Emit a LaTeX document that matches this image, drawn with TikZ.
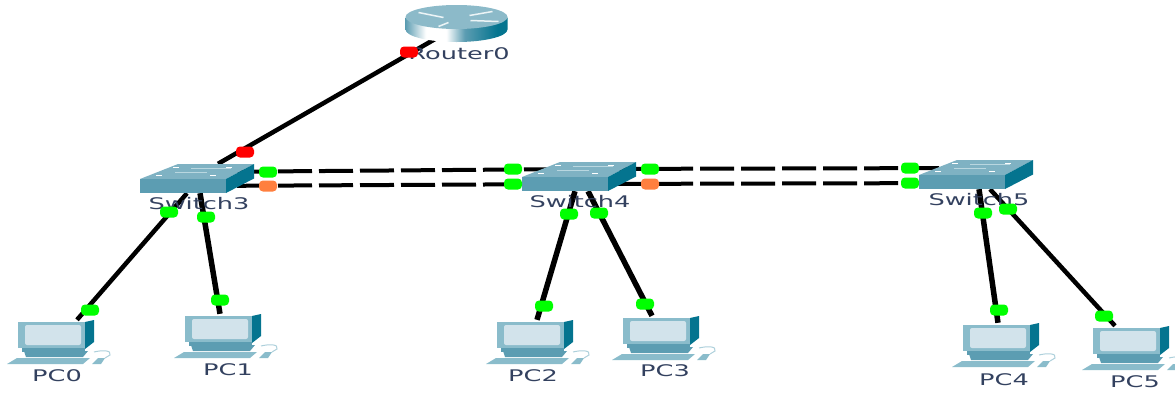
\documentclass[tikz,border=0pt]{standalone}
\usepackage{fontspec}
\usepackage{graphicx}
\setmainfont{DejaVu Sans}
\definecolor{cableblack}{HTML}{000000}
\definecolor{tealtop}{HTML}{7FB2C3}
\definecolor{tealfront}{HTML}{5C9DB2}
\definecolor{tealside}{HTML}{04748F}
\definecolor{tealpale}{HTML}{8ABCCB}
\definecolor{screenblue}{HTML}{D2E3EB}
\definecolor{lblcolor}{HTML}{33415F}
\definecolor{linkgreen}{HTML}{00FF00}
\definecolor{linkred}{HTML}{FF0000}
\definecolor{linkorange}{HTML}{FF7F3F}
\pgfdeclarehorizontalshading{routerbody}{100bp}{
  color(0bp)=(tealfront); color(25bp)=(tealfront); color(35bp)=(white); color(45bp)=(white);
  color(54bp)=(tealfront); color(70bp)=(tealside); color(100bp)=(tealside)}
\tikzset{
  devbox/.style={inner sep=0pt,minimum width=#1},
  swbox/.style={devbox=114pt,minimum height=29pt},
  pcbox/.style={devbox=102pt,minimum height=46pt},
  rtbox/.style={devbox=103pt,minimum height=37pt},
  cable/.style={draw=cableblack,line width=#1},
  cable/.default=4.5pt,
  trunk/.style={cable=4pt,dash pattern=on 34pt off 7pt},
  light/.style={fill=#1,rounded corners=4pt,inner sep=0pt,minimum width=18pt,minimum height=11pt},
  devlabel/.style={inner sep=0pt,text=lblcolor,font=\fontsize{16}{18}\selectfont},
  switchicon/.pic={
    \fill[tealtop] (-57,0.5) -- (-19,-14.5) -- (57,-14.5) -- (29,0.5) -- cycle;
    \fill[tealfront] (-57,0.5) rectangle (29,14.5);
    \fill[tealside] (29,0.5) -- (57,-14.5) -- (57,0) -- (29,14.5) -- cycle;
    \foreach \a/\b in {-38/-3,-21/-11,32/-11,16/-3}
      \draw[white,line width=1.3pt] (\a-3,\b) -- (\a+3,\b);
    \draw[tealpale!60!white,line width=.5pt] (-22,-6) -- (10,-6) (-6,-10) -- (34,-10);
  },
  routericon/.pic={
    \shade[shading=routerbody] (-51,-6) -- (-51,6) arc[start angle=180,end angle=0,x radius=51,y radius=12.5] -- (51,-6) -- cycle;
    \fill[tealtop!90!white] (0,-6.5) ellipse[x radius=51,y radius=12];
    \foreach \a/\b/\c/\d in {-38/-11/-13/-6,13/-8/36/-12,-18/3/-8/-1,14/-3/42/-2}
      \draw[white!85!tealtop,line width=1.5pt] (\a,\b) -- (\c,\d);
  },
  pcicon/.pic={
    \draw[tealpale!70!white,line width=1pt] (36,9) .. controls (44,7) and (54,7) .. (52,12) -- (47,15);
    \fill[tealpale] (40,15) -- (47,15) -- (43,21) -- (34,21) -- cycle;
    \fill[tealpale] (-51,21) -- (-41,15) -- (32,15) -- (25,21) -- cycle;
    \fill[tealfront] (-34,8) -- (30,8) -- (25,14) -- (-32,14) -- cycle;
    \fill[tealside] (27,-21) -- (36,-23) -- (36,-1) -- (27,6) -- cycle;
    \fill[tealpale] (-40,-21) -- (27,-21) -- (27,5) -- (-40,5) -- cycle;
    \fill[tealfront] (-36,5) rectangle (27,9);
    \fill[screenblue,rounded corners=2pt] (-33,-18) rectangle (23,2);
  },
}
\begin{document}
\begin{tikzpicture}[x=1pt,y=-1pt]
\useasboundingbox (0,0) rectangle (1175,392);
% devices
\node[rtbox] (router0) at (456.5,23.5) {};
\foreach \nm/\x/\y in {switch3/197/178.5,switch4/579/176.5,switch5/976/174.5}
  \node[swbox] (\nm) at (\x,\y) {};
\foreach \nm/\x/\y in {pc0/58/343,pc1/225/337,pc2/537/343,pc3/663/339,pc4/1003/346,pc5/1133/349}
  \node[pcbox] (\nm) at (\x,\y) {};
% cables
\draw[cable] ([xshift=21pt]switch3.north) -- ([xshift=-20pt,yshift=4pt]router0.south);
\draw[cable] ([xshift=-10pt]switch3.south) -- ([xshift=19pt]pc0.north);
\draw[cable=5.5pt] ([xshift=3pt]switch3.south) -- ([xshift=-5pt]pc1.north);
\draw[cable=5.5pt] ([xshift=-4pt]switch4.south) -- (pc2.north);
\draw[cable=5.5pt] ([xshift=9pt]switch4.south) -- ([xshift=-11pt]pc3.north);
\draw[cable=5.5pt] ([xshift=3pt]switch5.south) -- ([xshift=-5pt]pc4.north);
\draw[cable] ([xshift=14pt]switch5.south) -- ([xshift=-18pt]pc5.north);
\draw[trunk,dash phase=1pt] ([yshift=6.5pt]switch3.center) -- ([yshift=7.5pt]switch4.center);
\draw[trunk,dash phase=1pt] ([yshift=-7.5pt]switch3.center) -- ([yshift=-7.5pt]switch4.center);
\draw[trunk,dash phase=2pt] ([yshift=7.5pt]switch4.center) -- ([yshift=6.5pt]switch5.center);
\draw[trunk,dash phase=2pt] ([yshift=-7.5pt]switch4.center) -- ([yshift=-8.5pt]switch5.center);
% icons
\pic at (router0) {routericon};
\foreach \nm in {switch3,switch4,switch5}
  \pic at (\nm) {switchicon};
\foreach \nm in {pc0,pc1,pc2,pc3,pc4,pc5}
  \pic at (\nm) {pcicon};
% names
\foreach \nm/\x/\y in {Router0/459/54,Switch3/199/204,Switch4/580/202,Switch5/979/200,PC0/57/376,PC1/228/370,PC2/533/376,PC3/665/371,PC4/1004/380,PC5/1135/382}
  \node[devlabel] (lbl\nm) at (\x,\y) {\scalebox{1.6}[1]{\nm}};
% link lights
\foreach \nm/\x/\y/\col in {a/409/52/linkred,b/245/152/linkred,
  c/268/172/linkgreen,d/268/186/linkorange,e/513/169/linkgreen,f/513/184/linkgreen,
  g/650/169/linkgreen,h/650/184/linkorange,i/910/168/linkgreen,j/910/183/linkgreen,
  k/169/212/linkgreen,l/206/217/linkgreen,m/90/310/linkgreen,n/220/300/linkgreen,
  o/569/214/linkgreen,p/599/213/linkgreen,q/544/306/linkgreen,r/645/304/linkgreen,
  s/983/213/linkgreen,t/1008/209/linkgreen,u/999/310/linkgreen,v/1104/316/linkgreen}
  \node[light=\col] (light\nm) at (\x,\y) {};
\end{tikzpicture}
\end{document}
